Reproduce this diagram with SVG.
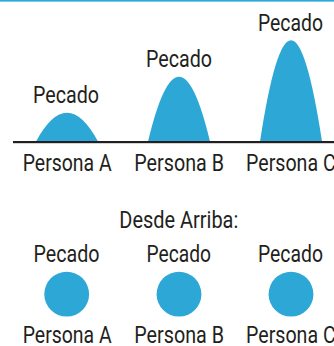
<svg xmlns="http://www.w3.org/2000/svg" width="334" height="346" viewBox="0 0 334 346">
<style>
.t{font-family:"Roboto","Liberation Sans",sans-serif;font-size:24.5px;fill:#231f20}
.b{fill:#2da7d6}
</style>
<rect width="334" height="346" fill="#fff"/>
<rect x="0" y="0" width="334" height="1.6" class="b"/>
<g id="side-view">
<g id="hump-a"><path class="b" d="M36 141.5 Q67 84 98 141.5 Z"/></g>
<g id="hump-b"><path class="b" d="M148 141.5 Q179 12 210 141.5 Z"/></g>
<g id="hump-c"><path class="b" d="M260 141.5 Q291 -61 322 141.5 Z"/></g>
<rect id="ground" x="13" y="141" width="321" height="2.2" fill="#231f20"/>
<g id="labels-side">
<text class="t" x="33" y="102.7" textLength="66" lengthAdjust="spacingAndGlyphs">Pecado</text>
<text class="t" x="146" y="66.7" textLength="66" lengthAdjust="spacingAndGlyphs">Pecado</text>
<text class="t" x="258" y="31" textLength="65" lengthAdjust="spacingAndGlyphs">Pecado</text>
<text class="t" x="22.7" y="171" textLength="89" lengthAdjust="spacingAndGlyphs">Persona A</text>
<text class="t" x="134.3" y="170.8" textLength="89.7" lengthAdjust="spacingAndGlyphs">Persona B</text>
<text class="t" x="246" y="170.8" textLength="89.7" lengthAdjust="spacingAndGlyphs">Persona C</text>
</g>
</g>
<g id="top-view">
<text class="t" x="119.3" y="228.3" textLength="119" lengthAdjust="spacingAndGlyphs">Desde Arriba:</text>
<g id="node-a">
<text class="t" x="33.5" y="261.5" textLength="66" lengthAdjust="spacingAndGlyphs">Pecado</text>
<circle class="b" cx="66.7" cy="294.2" r="22.4"/>
<text class="t" x="22.7" y="343.3" textLength="89" lengthAdjust="spacingAndGlyphs">Persona A</text>
</g>
<g id="node-b">
<text class="t" x="146.5" y="261.5" textLength="64.5" lengthAdjust="spacingAndGlyphs">Pecado</text>
<circle class="b" cx="179" cy="294.2" r="22.4"/>
<text class="t" x="134.3" y="343.3" textLength="89.7" lengthAdjust="spacingAndGlyphs">Persona B</text>
</g>
<g id="node-c">
<text class="t" x="258" y="261.5" textLength="65" lengthAdjust="spacingAndGlyphs">Pecado</text>
<circle class="b" cx="291" cy="294.2" r="22.4"/>
<text class="t" x="246" y="343.3" textLength="89.7" lengthAdjust="spacingAndGlyphs">Persona C</text>
</g>
</g>
</svg>
